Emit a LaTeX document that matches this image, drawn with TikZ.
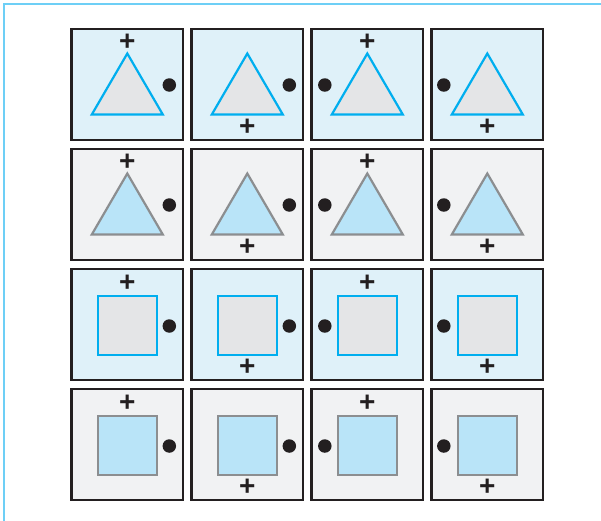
\documentclass[tikz,border=0pt]{standalone}
\usepackage{fontspec}
\setmainfont{Liberation Sans}
\usetikzlibrary{positioning}
\definecolor{gridInk}{HTML}{231F20}
\definecolor{gridCyan}{HTML}{00AEEF}
\definecolor{gridSky}{HTML}{DFF1F9}
\definecolor{gridPale}{HTML}{F1F2F3}
\definecolor{gridFog}{HTML}{E4E5E7}
\definecolor{gridIce}{HTML}{B9E4F8}
\definecolor{gridSlate}{HTML}{8C8E90}
\definecolor{gridFrame}{HTML}{6DCFF6}

\begin{document}
\begin{tikzpicture}[x=1pt,y=-1pt,line join=miter]
\useasboundingbox[fill=white] (0,0) rectangle (601,520);
\draw[draw=gridFrame,line width=2.4pt] (3.7,521) -- (3.7,3.7) -- (602,3.7);
\tikzset{cell/.style={draw=gridInk,line width=2.4pt,minimum size=111.5pt,inner sep=0pt},skycell/.style={cell,fill=gridSky},palecell/.style={cell,fill=gridPale},cyanshape/.style={draw=gridCyan,fill=gridFog,line width=2.2pt},slateshape/.style={draw=gridSlate,fill=gridIce,line width=2.2pt},plus/.style={inner sep=0pt,text=gridInk,font=\fontsize{28}{28}\selectfont\bfseries},dot/.style={circle,fill=gridInk,minimum size=13.5pt,inner sep=0pt}}
% row 1: cyan triangles
\foreach \c/\py/\dx in {0/-42.5/42,1/42.5/42,2/-42.5/-42.5,3/42.5/-43.5} {
  \pgfmathsetmacro{\cx}{127.3+120*\c}
  \node[skycell] (cell1\c) at (\cx,84.5) {};
  \draw[cyanshape] (\cx,53.5) -- (\cx+35.5,114.5) -- (\cx-35.5,114.5) -- cycle;
  \node[plus] (plus1\c) at (\cx,84.5+\py) {+};
  \node[dot] (dot1\c) at (\cx+\dx,85) {};
}
% row 2: slate triangles
\foreach \c/\py/\dx in {0/-42.5/42,1/42.5/42,2/-42.5/-42.5,3/42.5/-43.5} {
  \pgfmathsetmacro{\cx}{127.3+120*\c}
  \node[palecell] (cell2\c) at (\cx,204.5) {};
  \draw[slateshape] (\cx,173.5) -- (\cx+35.5,234.5) -- (\cx-35.5,234.5) -- cycle;
  \node[plus] (plus2\c) at (\cx,204.5+\py) {+};
  \node[dot] (dot2\c) at (\cx+\dx,205) {};
}
% row 3: cyan squares
\foreach \c/\py/\dx in {0/-41.5/42,1/42.5/42,2/-41.5/-42.5,3/42.5/-43.5} {
  \pgfmathsetmacro{\cx}{127.3+120*\c}
  \node[skycell] (cell3\c) at (\cx,324.5) {};
  \draw[cyanshape] (\cx-29.5,296) rectangle (\cx+29.5,355);
  \node[plus] (plus3\c) at (\cx,324.5+\py) {+};
  \node[dot] (dot3\c) at (\cx+\dx,326) {};
}
% row 4: slate squares
\foreach \c/\py/\dx in {0/-41.5/42,1/42.5/42,2/-41.5/-42.5,3/42.5/-43.5} {
  \pgfmathsetmacro{\cx}{127.3+120*\c}
  \node[palecell] (cell4\c) at (\cx,444.5) {};
  \draw[slateshape] (\cx-29.5,416) rectangle (\cx+29.5,475);
  \node[plus] (plus4\c) at (\cx,444.5+\py) {+};
  \node[dot] (dot4\c) at (\cx+\dx,446) {};
}
\end{tikzpicture}
\end{document}
